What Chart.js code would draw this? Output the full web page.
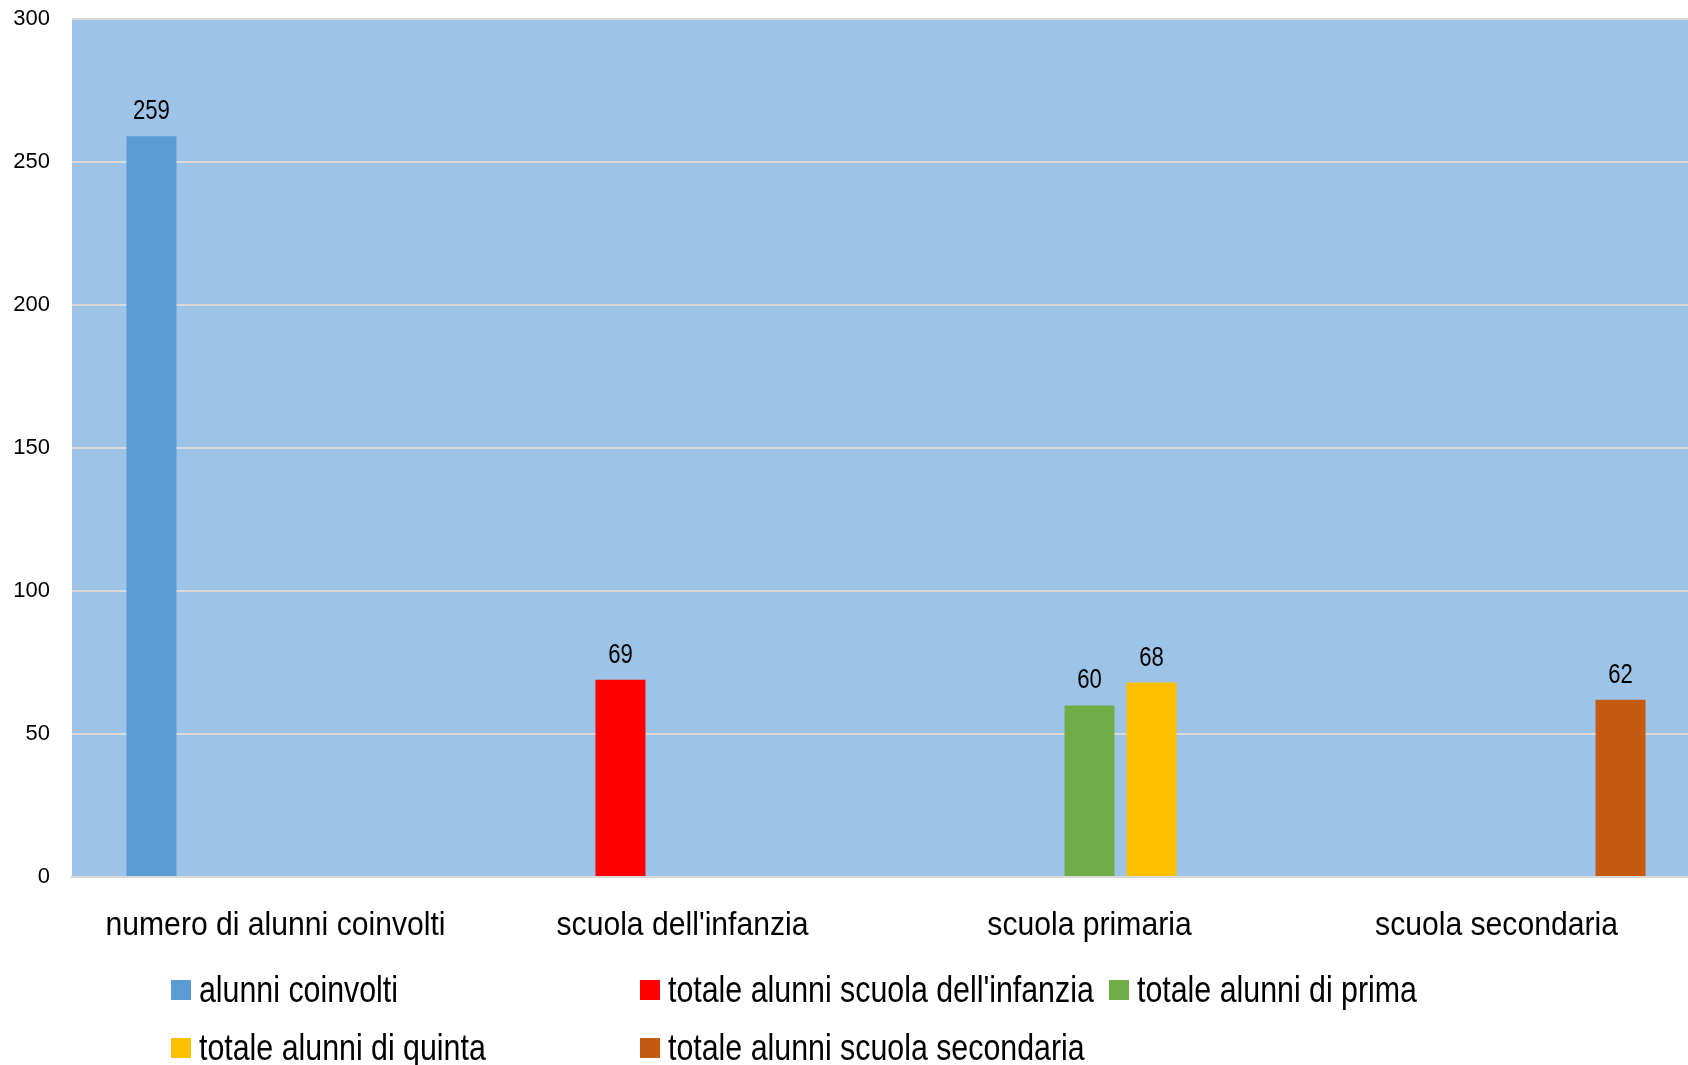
<!DOCTYPE html>
<html>
<head>
<meta charset="utf-8">
<script src="https://cdn.jsdelivr.net/npm/chart.js@4"></script>
<style>
    body { margin: 0; background: #fff; overflow: hidden; }
    #wrap { position: relative; width: 1700px; height: 1065px; }
    #legend {
        position: absolute; left: 171px; top: 961px;
        display: grid; grid-template-columns: 469px 469px 469px; grid-auto-rows: 58px;
        font-family: "Liberation Sans", Arial, sans-serif; font-size: 37px; color: #000;
    }
    .item { display: flex; align-items: center; white-space: nowrap; }
    .box { width: 20px; height: 20px; margin-right: 8px; flex: none; }
    .txt { display: inline-block; transform: scaleX(0.82); transform-origin: 0 50%; }
</style>
</head>
<body>
<div id="wrap">
    <canvas id="barChart"></canvas>
    <div id="legend"></div>
</div>
<script>
const categories = ['numero di alunni coinvolti', "scuola dell'infanzia", 'scuola primaria', 'scuola secondaria'];
const seriesNames = ['alunni coinvolti', "totale alunni scuola dell'infanzia", 'totale alunni di prima', 'totale alunni di quinta', 'totale alunni scuola secondaria'];
const alunniCoinvolti = [259, null, null, null];
const alunniInfanzia = [null, 69, null, null];
const alunniPrima = [null, null, 60, null];
const alunniQuinta = [null, null, 68, null];
const alunniSecondaria = [null, null, null, 62];
const seriesColors = ['#5B9BD5', '#FF0000', '#70AD47', '#FFC000', '#C55A11'];
const yTicks = [0, 50, 100, 150, 200, 250, 300];

const sans = '"Liberation Sans", Arial, sans-serif';
const seriesValues = [alunniCoinvolti, alunniInfanzia, alunniPrima, alunniQuinta, alunniSecondaria];

// the original uses a narrow face, so squeeze the regular one
function narrowText(ctx, text, x, y, size, squeeze) {
    ctx.save();
    ctx.font = size + 'px ' + sans;
    ctx.translate(x, y);
    ctx.scale(squeeze, 1);
    ctx.fillText(text, 0, 0);
    ctx.restore();
}

// blue plot background behind the grid
const plotBackground = {
    id: 'plotBackground',
    beforeDraw(chart) {
        const { ctx, chartArea } = chart;
        ctx.save();
        ctx.fillStyle = '#9DC3E6';
        ctx.fillRect(chartArea.left, chartArea.top, chartArea.right - chartArea.left, chartArea.bottom - chartArea.top);
        ctx.restore();
    }
};

// value labels above the bars + category labels under the axis
const textLabels = {
    id: 'textLabels',
    afterDatasetsDraw(chart) {
        const ctx = chart.ctx;
        ctx.save();
        ctx.fillStyle = '#000';
        ctx.textAlign = 'center';
        ctx.textBaseline = 'alphabetic';
        chart.data.datasets.forEach((ds, i) => {
            chart.getDatasetMeta(i).data.forEach((bar, j) => {
                const v = ds.data[j];
                if (v === null || v === undefined) return;
                narrowText(ctx, String(v), bar.x, bar.y - 17, 27, 0.82);
            });
        });
        const xScale = chart.scales.x;
        chart.data.labels.forEach((lab, i) => {
            narrowText(ctx, lab, xScale.getPixelForTick(i), chart.chartArea.bottom + 58, 33, 0.913);
        });
        ctx.restore();
    }
};

const myChart = new Chart(document.getElementById('barChart'), {
    type: 'bar',
    data: {
        labels: categories,
        datasets: seriesNames.map((name, i) => ({
            label: name,
            data: seriesValues[i],
            backgroundColor: seriesColors[i],
            categoryPercentage: 0.762,
            barPercentage: 0.806,
        })),
    },
    options: {
        responsive: true,
        maintainAspectRatio: false,
        animation: false,
        layout: { padding: { top: 19, right: 0, bottom: 122, left: 0 } },
        scales: {
            x: {
                grid: { display: false, drawTicks: false },
                border: { display: true, color: '#D9D9D9', width: 2 },
                ticks: { display: false },
                afterFit: (scale) => { scale.height = 66; },
            },
            y: {
                min: 0,
                max: 300,
                afterBuildTicks: (scale) => { scale.ticks = yTicks.map(v => ({ value: v })); },
                afterFit: (scale) => {
                    scale.width = 72;
                    scale.paddingTop = 0;
                    scale.paddingBottom = 0;
                },
                grid: { color: '#D9D9D9', lineWidth: 2, drawTicks: false },
                border: { display: false },
                ticks: { color: '#000', padding: 22, font: { family: sans, size: 22 } },
            },
        },
        plugins: {
            legend: { display: false },
            tooltip: { enabled: false },
        },
    },
    plugins: [plotBackground, textLabels],
});

// legend laid out in three columns like the original
const legendEl = document.getElementById('legend');
myChart.data.datasets.forEach(ds => {
    const item = document.createElement('div');
    item.className = 'item';
    const box = document.createElement('span');
    box.className = 'box';
    box.style.background = ds.backgroundColor;
    const text = document.createElement('span');
    text.className = 'txt';
    text.textContent = ds.label;
    item.appendChild(box);
    item.appendChild(text);
    legendEl.appendChild(item);
});
</script>
</body>
</html>
